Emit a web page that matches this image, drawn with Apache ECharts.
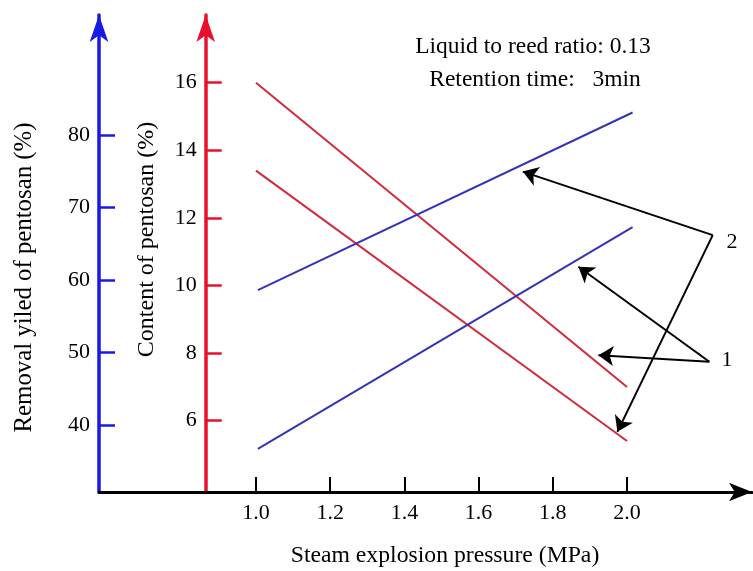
<!DOCTYPE html>
<html>
<head>
<meta charset="utf-8">
<script src="https://cdn.jsdelivr.net/npm/echarts@6/dist/echarts.min.js"></script>
<style>
  html, body { margin: 0; padding: 0; background: #fff; }
  #chart { width: 753px; height: 571px; }
</style>
</head>
<body>
<div id="chart"></div>
<script>
// pressure (MPa) at both ends of each line
const pressureRed = [1.0, 2.0];
const pressureBlue = [1.005, 2.015];
// content of pentosan (%) - red axis
const contentUpper = [16.0, 7.0];
const contentLower = [13.4, 5.4];
// removal yield of pentosan (%) - blue axis
const removalUpper = [58.6, 83.1];
const removalLower = [36.7, 67.3];

const xTicks = [1.0, 1.2, 1.4, 1.6, 1.8, 2.0];
const contentTicks = [6, 8, 10, 12, 14, 16];
const removalTicks = [40, 50, 60, 70, 80];

// annotation arrows, in (pressure, content) coordinates
const arrowStart2 = [2.231, 11.49];
const arrowEnds2 = [[1.719, 13.37], [1.974, 5.67]];
const arrowStart1 = [2.222, 7.745];
const arrowEnds1 = [[1.869, 10.556], [1.923, 7.94]];
const markLabels = [[2.283, 11.27, '2'], [2.2695, 7.796, '1']];

const FONT = "'Liberation Serif', 'Times New Roman', serif";
const BLUE = '#1a1ae6';
const RED = '#e8102c';

const chart = echarts.init(document.getElementById('chart'));

const toPairs = (xs, ys) => xs.map((x, i) => [x, ys[i]]);
const arrowData = arrowEnds2.map(e => ({ coords: [arrowStart2, e] }))
  .concat(arrowEnds1.map(e => ({ coords: [arrowStart1, e] })));

const option = {
  animation: false,
  grid: { left: 99, right: 1, top: 15, bottom: 79, outerBoundsMode: 'none' },
  xAxis: {
    type: 'value',
    min: 0.5768,
    max: 2.3369,
    splitLine: { show: false },
    axisLine: {
      lineStyle: { color: '#000', width: 3 },
      symbol: ['none', 'arrow'],
      symbolSize: [13.7, 23]
    },
    axisTick: {
      inside: true, length: 15,
      lineStyle: { color: '#000', width: 2 },
      customValues: xTicks
    },
    axisLabel: {
      customValues: xTicks,
      margin: 10,
      color: '#000',
      fontFamily: FONT,
      fontSize: 22,
      formatter: v => v.toFixed(1)
    }
  },
  yAxis: [
    {
      type: 'value',
      position: 'left',
      offset: -106.7,
      min: 3.891,
      max: 18.003,
      splitLine: { show: false },
      axisLine: {
        show: true,
        lineStyle: { color: RED, width: 3.5 },
        symbol: ['none', 'arrow'],
        symbolSize: [14, 27]
      },
      axisTick: {
        show: true, inside: true, length: 16,
        lineStyle: { color: RED, width: 2.5 },
        customValues: contentTicks
      },
      axisLabel: {
        customValues: contentTicks,
        margin: 9,
        color: '#000',
        fontFamily: FONT,
        fontSize: 22
      }
    },
    {
      type: 'value',
      position: 'left',
      offset: 0,
      min: 30.759,
      max: 96.552,
      splitLine: { show: false },
      axisLine: {
        show: true,
        lineStyle: { color: BLUE, width: 3.5 },
        symbol: ['none', 'arrow'],
        symbolSize: [14, 27]
      },
      axisTick: {
        show: true, inside: true, length: 16,
        lineStyle: { color: BLUE, width: 2.5 },
        customValues: removalTicks
      },
      axisLabel: {
        customValues: removalTicks,
        margin: 9,
        color: '#000',
        fontFamily: FONT,
        fontSize: 22
      }
    }
  ],
  graphic: [
    {
      type: 'text', x: 533, y: 47,
      style: { text: 'Liquid to reed ratio: 0.13', font: '23.5px ' + FONT, fill: '#000', align: 'center', verticalAlign: 'middle' }
    },
    {
      type: 'text', x: 535, y: 80,
      style: { text: 'Retention time:   3min', font: '23.5px ' + FONT, fill: '#000', align: 'center', verticalAlign: 'middle' }
    },
    {
      type: 'text', x: 445, y: 556,
      style: { text: 'Steam explosion pressure (MPa)', font: '23.7px ' + FONT, fill: '#000', align: 'center', verticalAlign: 'middle' }
    },
    {
      type: 'text', x: 24, y: 277.5, rotation: Math.PI / 2,
      style: { text: 'Removal yiled of pentosan (%)', font: '24.8px ' + FONT, fill: '#000', align: 'center', verticalAlign: 'middle' }
    },
    {
      type: 'text', x: 147, y: 239.5, rotation: Math.PI / 2,
      style: { text: 'Content of pentosan (%)', font: '24px ' + FONT, fill: '#000', align: 'center', verticalAlign: 'middle' }
    }
  ],
  series: [
    {
      type: 'line', yAxisIndex: 0, symbol: 'none',
      lineStyle: { color: '#d02a3c', width: 2 },
      data: toPairs(pressureRed, contentUpper)
    },
    {
      type: 'line', yAxisIndex: 0, symbol: 'none',
      lineStyle: { color: '#d02a3c', width: 2 },
      data: toPairs(pressureRed, contentLower)
    },
    {
      type: 'line', yAxisIndex: 1, symbol: 'none',
      lineStyle: { color: '#3434b4', width: 2 },
      data: toPairs(pressureBlue, removalUpper)
    },
    {
      type: 'line', yAxisIndex: 1, symbol: 'none',
      lineStyle: { color: '#3434b4', width: 2 },
      data: toPairs(pressureBlue, removalLower)
    },
    {
      type: 'lines', coordinateSystem: 'cartesian2d', yAxisIndex: 0,
      symbol: ['none', 'arrow'], symbolSize: 15,
      lineStyle: { color: '#000', width: 2, opacity: 1 },
      data: arrowData
    },
    {
      type: 'scatter', yAxisIndex: 0, symbolSize: 0,
      itemStyle: { opacity: 1, color: '#000' },
      label: {
        show: true, position: 'inside', color: '#000', opacity: 1,
        textBorderWidth: 0,
        fontFamily: FONT, fontSize: 22,
        formatter: p => p.value[2]
      },
      data: markLabels
    }
  ]
};
chart.setOption(option);
window.addEventListener('resize', () => chart.resize());
</script>
</body>
</html>
